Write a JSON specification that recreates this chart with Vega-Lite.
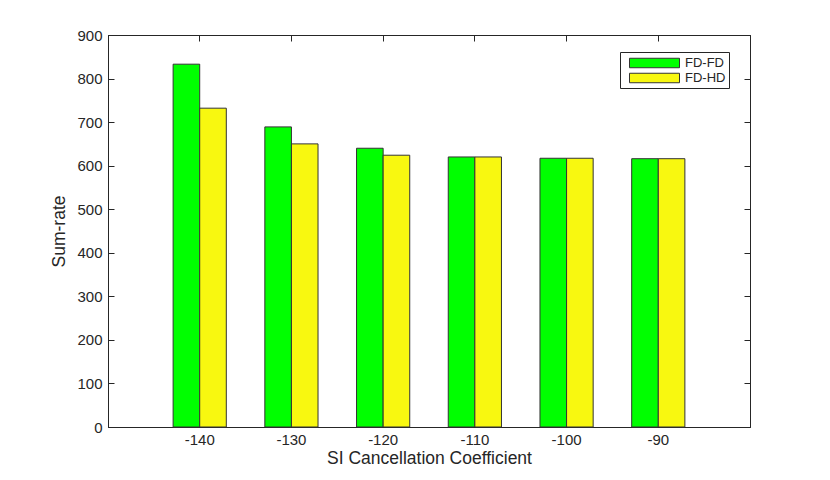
{
  "$schema": "https://vega.github.io/schema/vega-lite/v6.json",
  "autosize": "none",
  "width": 642,
  "height": 392,
  "padding": {"left": 108, "top": 35, "right": 80, "bottom": 53},
  "background": "white",
  "config": {
    "font": "Liberation Sans",
    "view": {"stroke": "#262626", "strokeWidth": 1},
    "axis": {"grid": false, "domainColor": "#262626", "tickColor": "#262626", "labelColor": "#262626", "titleColor": "#262626", "labelFontSize": 15, "titleFontSize": 17.5, "titleFontWeight": "normal", "tickSize": -6}
  },
  "data": {
    "values": [
      {"coef": -140, "scheme": "FD-FD", "value": 833},
      {"coef": -140, "scheme": "FD-HD", "value": 732},
      {"coef": -130, "scheme": "FD-FD", "value": 689},
      {"coef": -130, "scheme": "FD-HD", "value": 650},
      {"coef": -120, "scheme": "FD-FD", "value": 640},
      {"coef": -120, "scheme": "FD-HD", "value": 624},
      {"coef": -110, "scheme": "FD-FD", "value": 620},
      {"coef": -110, "scheme": "FD-HD", "value": 620},
      {"coef": -100, "scheme": "FD-FD", "value": 617},
      {"coef": -100, "scheme": "FD-HD", "value": 617},
      {"coef": -90, "scheme": "FD-FD", "value": 616},
      {"coef": -90, "scheme": "FD-HD", "value": 616}
    ]
  },
  "layer": [
    {
      "mark": {"type": "bar", "stroke": "#333333", "strokeWidth": 1},
      "encoding": {
        "x": {"field": "coef", "type": "ordinal", "sort": "ascending",
          "scale": {"paddingInner": 0.42, "paddingOuter": 0.71},
          "axis": {"orient": "bottom", "labelAngle": 0, "labelPadding": 11, "title": "SI Cancellation Coefficient", "titlePadding": 2}},
        "xOffset": {"field": "scheme", "type": "nominal", "scale": {"paddingInner": 0, "paddingOuter": 0}},
        "y": {"field": "value", "type": "quantitative",
          "scale": {"domain": [0, 900], "nice": false},
          "axis": {"orient": "left", "labelPadding": 12, "values": [0,100,200,300,400,500,600,700,800,900], "title": "Sum-rate", "titlePadding": 8}},
        "color": {"field": "scheme", "type": "nominal",
          "scale": {"domain": ["FD-FD", "FD-HD"], "range": ["#00ff00", "#f8f810"]},
          "legend": {"title": null, "orient": "none", "legendX": 512, "legendY": 17, "strokeColor": "#262626", "fillColor": "white", "padding": 3, "labelFontSize": 13, "labelColor": "#262626", "symbolType": "M-0.2,-0.633H6.467V0.633H-0.2Z", "symbolSize": 225, "symbolStrokeColor": "#333333", "symbolStrokeWidth": 1, "symbolOpacity": 1, "labelOffset": 46, "rowPadding": 0, "labelExpr": "datum.label + '\u00a0\u00a0\u00a0'"}}
      }
    },
    {
      "mark": {"type": "bar", "opacity": 0},
      "encoding": {
        "x": {"field": "coef", "type": "ordinal", "sort": "ascending",
          "axis": {"orient": "top", "labels": false, "title": null}},
        "y": {"field": "value", "type": "quantitative",
          "axis": {"orient": "right", "labels": false, "title": null, "values": [0,100,200,300,400,500,600,700,800,900]}}
      }
    }
  ],
  "resolve": {"axis": {"x": "independent", "y": "independent"}}
}
